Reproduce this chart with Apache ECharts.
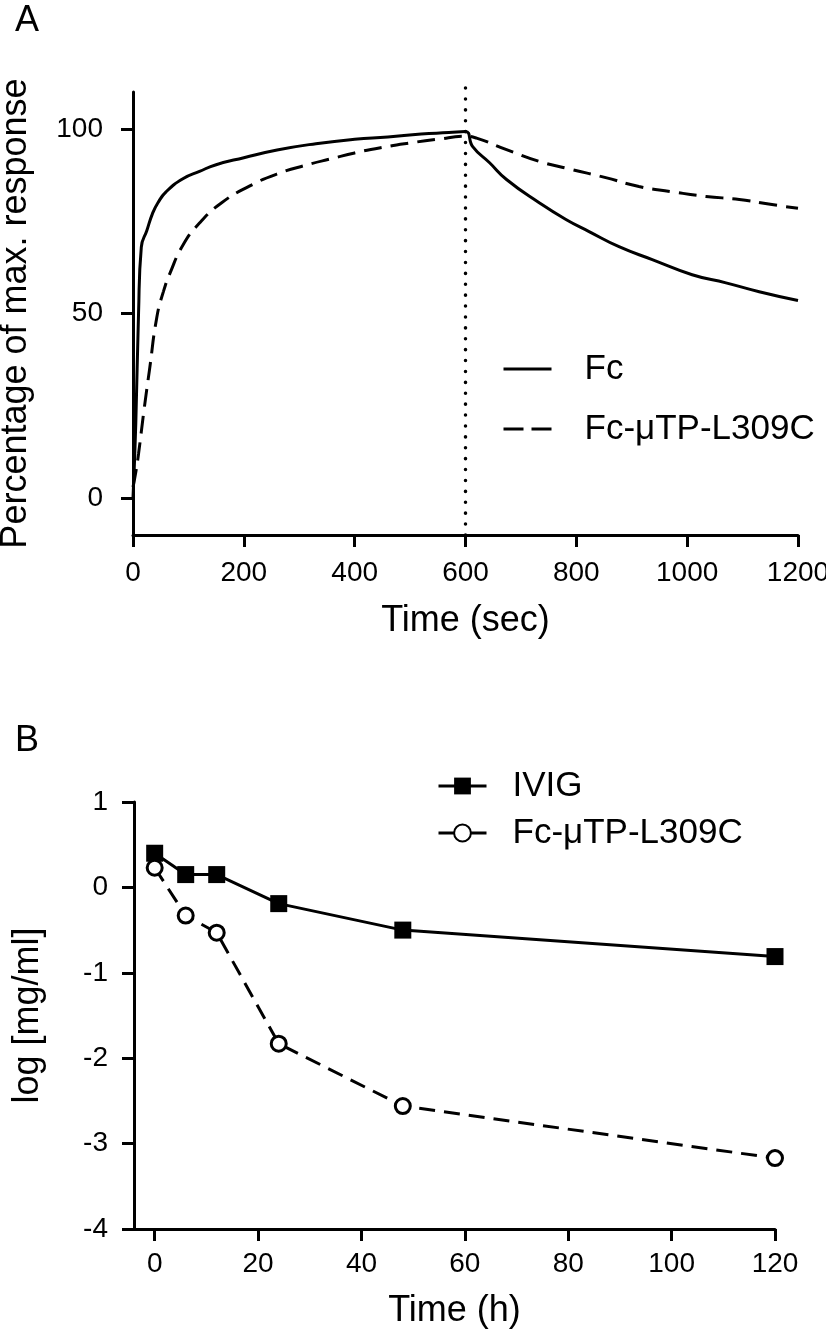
<!DOCTYPE html>
<html><head><meta charset="utf-8">
<script src="https://cdn.jsdelivr.net/npm/echarts@6/dist/echarts.min.js"></script>
<style>html,body{margin:0;padding:0;background:#fff}#c{width:826px;height:1330px}</style>
</head><body><div id="c"></div>
<script>
// ---------- Panel A: sensorgram (percentage of max. response vs time, sec) ----------
const fcTime = [0, 5, 10, 15, 25, 35, 45, 60, 90, 120, 150, 200, 260, 330, 400, 460, 520, 570, 600,
  613, 643, 674, 733, 782, 823, 877, 937, 1009, 1070, 1130, 1200];
const fcResp = [0, 20, 50, 68, 72.5, 77, 80, 83, 86.5, 88.5, 90.3, 92.2, 94.3, 96, 97.2, 97.8, 98.6, 99, 99.3,
  95.2, 90.9, 86.3, 80, 75.4, 72.2, 68.1, 64.6, 60.5, 58.3, 55.9, 53.5];
const mutTime = [0, 5, 10, 20, 30, 43, 55, 67, 90, 120, 160, 210, 260, 315, 360, 400, 450, 500, 550, 600,
  620, 674, 733, 792, 853, 913, 972, 1034, 1094, 1153, 1200];
const mutResp = [3, 7, 12, 24, 35, 49, 56, 61, 68.5, 74.5, 80, 84.5, 87.8, 90.3, 92, 93.5, 95, 96.2, 97.2, 98,
  97.5, 94.4, 91.2, 89, 86.8, 84.4, 83, 81.7, 80.9, 79.5, 78.5];
const injectionEnd = 600;
const aYTicks = [0, 50, 100];

// ---------- Panel B: pharmacokinetics (log [mg/ml] vs time, h) ----------
const bTime = [0, 6, 12, 24, 48, 120];
const ivig = [0.40, 0.15, 0.15, -0.19, -0.50, -0.81];
const fcMut = [0.23, -0.33, -0.53, -1.83, -2.56, -3.17];
const bXTicks = [0, 20, 40, 60, 80, 100, 120];

const FONT = 'Liberation Sans, Arial, Helvetica, sans-serif';
const pairs = (xs, ys) => xs.map((x, i) => [x, ys[i]]);
const plain = v => String(v);

const axisCommon = {
  axisLine: { show: true, onZero: false, lineStyle: { color: '#000', width: 3 } },
  axisTick: { show: true, inside: false, length: 12, lineStyle: { color: '#000', width: 3 } },
  splitLine: { show: false },
  nameTextStyle: { color: '#000', fontFamily: FONT, fontSize: 36, lineHeight: 36 }
};

function legendText(pad) {
  return {
    fontSize: 35, lineHeight: 35, fontFamily: FONT, color: '#000',
    rich: {
      p: { width: pad, fontSize: 35, lineHeight: 35 },
      t: { fontSize: 35, lineHeight: 35, fontFamily: FONT, color: '#000' }
    }
  };
}

const chart = echarts.init(document.getElementById('c'), null, { renderer: 'canvas' });
chart.setOption({
  backgroundColor: '#fff',
  animation: false,
  textStyle: { fontFamily: FONT, color: '#000' },
  graphic: [
    { type: 'text', x: 15, y: 21, style: { text: 'A', fontSize: 36, fontFamily: FONT, fill: '#000', align: 'left', verticalAlign: 'middle' } },
    { type: 'text', x: 15, y: 741, style: { text: 'B', fontSize: 36, fontFamily: FONT, fill: '#000', align: 'left', verticalAlign: 'middle' } }
  ],
  grid: [
    { left: 133, right: 28, top: 92, bottom: 795, containLabel: false, outerBoundsMode: 'none' },
    { left: 134, right: 51, top: 802, bottom: 101, containLabel: false, outerBoundsMode: 'none' }
  ],
  legend: [
    {
      data: ['Fc', { name: 'Fc-μTP-L309C', lineStyle: { type: [20, 8] } }],
      formatter: n => '{p| }{t|' + n + '}',
      orient: 'vertical', left: 497, top: 346.5, padding: 5,
      itemWidth: 48, itemHeight: 14, itemGap: 25,
      selectedMode: false,
      itemStyle: { opacity: 0 },
      lineStyle: { width: 3, color: '#000' },
      textStyle: legendText(28)
    },
    {
      data: ['IVIG', 'Fc-μTP-L309C (B)'],
      formatter: n => '{p| }{t|' + n.replace(' (B)', '') + '}',
      orient: 'vertical', left: 432, top: 763.5, padding: 5,
      itemWidth: 48, itemHeight: 21, itemGap: 12,
      selectedMode: false,
      lineStyle: { width: 3, color: '#000', type: 'solid' },
      textStyle: legendText(21)
    }
  ],
  xAxis: [
    Object.assign({}, axisCommon, {
      type: 'value', gridIndex: 0, min: 0, max: 1200, interval: 200,
      name: 'Time (sec)', nameLocation: 'middle', nameGap: 68,
      axisLabel: { color: '#000', fontSize: 28, fontFamily: FONT, margin: 24, formatter: plain, showMaxLabel: true, showMinLabel: true }
    }),
    Object.assign({}, axisCommon, {
      type: 'value', gridIndex: 1, min: -4, max: 120,
      name: 'Time (h)', nameLocation: 'middle', nameGap: 64,
      axisTick: Object.assign({}, axisCommon.axisTick, { customValues: bXTicks }),
      axisLabel: { color: '#000', fontSize: 28, fontFamily: FONT, margin: 21, formatter: plain, customValues: bXTicks }
    })
  ],
  yAxis: [
    Object.assign({}, axisCommon, {
      type: 'value', gridIndex: 0, min: -10, max: 110,
      name: 'Percentage of max. response', nameLocation: 'middle', nameRotate: 90, nameGap: 99,
      axisTick: Object.assign({}, axisCommon.axisTick, { customValues: aYTicks }),
      axisLabel: { color: '#000', fontSize: 28, fontFamily: FONT, margin: 30, formatter: plain, customValues: aYTicks }
    }),
    Object.assign({}, axisCommon, {
      type: 'value', gridIndex: 1, min: -4, max: 1, interval: 1,
      name: 'log [mg/ml]', nameLocation: 'middle', nameRotate: 90, nameGap: 88,
      axisLabel: { color: '#000', fontSize: 28, fontFamily: FONT, margin: 26, formatter: plain }
    })
  ],
  series: [
    {
      name: 'Fc', type: 'line', xAxisIndex: 0, yAxisIndex: 0,
      data: pairs(fcTime, fcResp), symbol: 'none', smooth: 0.5,
      lineStyle: { color: '#000', width: 3 }, itemStyle: { color: '#000' }, z: 3
    },
    {
      name: 'Fc-μTP-L309C', type: 'line', xAxisIndex: 0, yAxisIndex: 0,
      data: pairs(mutTime, mutResp), symbol: 'none', smooth: 0.5,
      lineStyle: { color: '#000', width: 3, type: [18, 9] }, itemStyle: { color: '#000' }, z: 3
    },
    {
      name: 'injection end', type: 'line', xAxisIndex: 0, yAxisIndex: 0,
      data: [[injectionEnd, -10], [injectionEnd, 113]], symbol: 'none', clip: false,
      lineStyle: { color: '#000', width: 3.5, type: [0.1, 10.8], cap: 'round' }, z: 2
    },
    {
      name: 'IVIG', type: 'line', xAxisIndex: 1, yAxisIndex: 1,
      data: pairs(bTime, ivig), symbol: 'rect', symbolSize: 17,
      lineStyle: { color: '#000', width: 3 }, itemStyle: { color: '#000' }, z: 3
    },
    {
      name: 'Fc-μTP-L309C (B)', type: 'line', xAxisIndex: 1, yAxisIndex: 1,
      data: pairs(bTime, fcMut), symbol: 'circle', symbolSize: 15,
      lineStyle: { color: '#000', width: 3, type: [16, 9] },
      itemStyle: { color: '#fff', borderColor: '#000', borderWidth: 3 }, z: 4
    }
  ]
});
</script>
</body></html>
